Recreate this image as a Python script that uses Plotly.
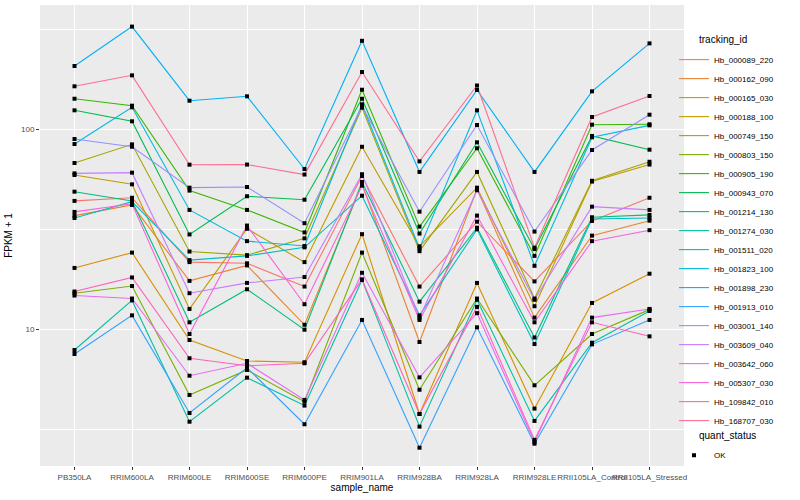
import plotly.graph_objects as go

samples = ["PB350LA", "RRIM600LA", "RRIM600LE", "RRIM600SE", "RRIM600PE", "RRIM901LA",
           "RRIM928BA", "RRIM928LA", "RRIM928LE", "RRII105LA_Control", "RRII105LA_Stressed"]

hb_000089_220 = [43.7, 45.3, 21.6, 21.3, 16.3, 58.2, 16.3, 34.4, 17.3, 34.7, 45.3]
hb_000162_090 = [36.9, 41.7, 17.4, 20.8, 10.5, 53.1, 8.61, 50.1, 11.4, 29.3, 34.8]
hb_000165_030 = [20.2, 24.1, 8.81, 6.92, 6.82, 29.8, 3.76, 17.0, 4.00, 13.5, 18.9]
hb_000188_100 = [58.9, 52.9, 12.6, 31.7, 21.6, 81.5, 25.9, 50.9, 13.0, 54.6, 66.4]
hb_000749_150 = [67.6, 83.8, 24.4, 23.4, 28.4, 127.8, 24.5, 61.0, 14.2, 55.1, 68.6]
hb_000803_150 = [15.1, 16.4, 4.68, 6.24, 4.33, 24.1, 4.97, 14.2, 5.23, 9.44, 12.5]
hb_000905_190 = [141.7, 130.8, 49.2, 39.4, 30.4, 157.2, 32.5, 80.1, 23.2, 105.1, 105.6]
hb_000943_070 = [124.0, 109.3, 29.7, 46.1, 44.3, 141.7, 30.0, 85.8, 25.1, 92.3, 78.8]
hb_001214_130 = [48.6, 43.7, 10.8, 15.8, 9.92, 54.3, 13.7, 32.1, 9.07, 36.2, 37.2]
hb_001274_030 = [7.85, 13.9, 3.44, 5.71, 4.14, 17.6, 3.25, 14.0, 3.47, 8.54, 12.3]
hb_001511_020 = [35.9, 43.3, 22.1, 23.2, 25.6, 46.4, 11.7, 31.5, 8.41, 35.5, 35.9]
hb_001823_100 = [84.1, 128.4, 39.4, 27.5, 26.0, 132.9, 25.3, 124.0, 20.7, 90.9, 104.3]
hb_001898_230 = [206.5, 325.0, 138.5, 145.7, 63.1, 276.0, 61.0, 156.7, 61.0, 154.3, 268.0]
hb_001913_010 = [7.50, 11.7, 3.80, 6.40, 3.34, 11.1, 2.55, 10.2, 2.67, 8.38, 11.1]
hb_003001_140 = [89.1, 81.5, 50.9, 51.3, 33.8, 130.3, 38.6, 104.7, 30.7, 78.5, 117.9]
hb_003609_040 = [60.0, 60.5, 15.1, 17.0, 18.2, 59.4, 11.4, 49.4, 14.0, 40.9, 39.4]
hb_003642_060 = [14.7, 14.2, 5.84, 6.74, 4.42, 19.1, 5.73, 12.0, 2.72, 11.4, 12.6]
hb_005307_030 = [38.5, 42.3, 9.44, 32.9, 13.3, 52.1, 11.1, 36.9, 10.8, 27.5, 31.2]
hb_109842_010 = [15.4, 18.1, 7.14, 6.55, 6.74, 17.7, 3.76, 12.9, 2.79, 10.8, 9.19]
hb_168707_030 = [163.5, 185.5, 66.3, 66.4, 59.2, 192.8, 68.9, 165.0, 25.5, 114.8, 146.2]

tracking_ids = ["Hb_000089_220", "Hb_000162_090", "Hb_000165_030", "Hb_000188_100",
                "Hb_000749_150", "Hb_000803_150", "Hb_000905_190", "Hb_000943_070",
                "Hb_001214_130", "Hb_001274_030", "Hb_001511_020", "Hb_001823_100",
                "Hb_001898_230", "Hb_001913_010", "Hb_003001_140", "Hb_003609_040",
                "Hb_003642_060", "Hb_005307_030", "Hb_109842_010", "Hb_168707_030"]
series_values = [hb_000089_220, hb_000162_090, hb_000165_030, hb_000188_100,
                 hb_000749_150, hb_000803_150, hb_000905_190, hb_000943_070,
                 hb_001214_130, hb_001274_030, hb_001511_020, hb_001823_100,
                 hb_001898_230, hb_001913_010, hb_003001_140, hb_003609_040,
                 hb_003642_060, hb_005307_030, hb_109842_010, hb_168707_030]

colors = ["#F8766D", "#EA8331", "#D89000", "#C09B00", "#A3A500", "#7CAE00", "#39B600",
          "#00BB4E", "#00BF7D", "#00C1A3", "#00BFC4", "#00BAE0", "#00B0F6", "#35A2FF",
          "#9590FF", "#C77CFF", "#E76BF3", "#FA62DB", "#FF62BC", "#FF6C91"]

FONT = "Liberation Sans, Arial, sans-serif"

fig = go.Figure()
for name, vals, col in zip(tracking_ids, series_values, colors):
    fig.add_trace(go.Scatter(x=samples, y=vals, mode="lines", name=name,
                             line=dict(color=col, width=1.1), legend="legend"))

all_x = [s for vals in series_values for s in samples]
all_y = [v for vals in series_values for v in vals]
fig.add_trace(go.Scatter(x=all_x, y=all_y, mode="markers", name="OK",
                         marker=dict(symbol="square", size=4, color="black"),
                         legend="legend2"))

fig.update_layout(
    width=800, height=500,
    margin=dict(l=40, r=116, t=5, b=34),
    paper_bgcolor="white", plot_bgcolor="#EBEBEB",
    font=dict(family=FONT, size=8, color="#4D4D4D"),
    xaxis=dict(type="category", range=[-0.6, 10.6], showgrid=True, gridcolor="white",
               gridwidth=1.1, zeroline=False, ticks="outside", ticklen=3,
               tickcolor="#333333", tickangle=0,
               tickfont=dict(family=FONT, size=8, color="#4D4D4D"),
               title=dict(text="sample_name", font=dict(family=FONT, size=10, color="black"),
                          standoff=2)),
    yaxis=dict(type="log", range=[0.315, 2.62], tickvals=[10, 100], ticktext=["10", "100"],
               showgrid=True, gridcolor="white", gridwidth=1.1, zeroline=False,
               ticks="outside", ticklen=3, tickcolor="#333333",
               tickfont=dict(family=FONT, size=8, color="#4D4D4D"),
               minor=dict(tickvals=[3.1623, 31.623, 316.23], showgrid=True,
                          gridcolor="white", gridwidth=0.5, ticks=""),
               title=dict(text="FPKM + 1", font=dict(family=FONT, size=10, color="black"),
                          standoff=6)),
    legend=dict(x=0.9845, y=0.913, xanchor="left", yanchor="top",
                font=dict(family=FONT, size=8, color="black"),
                bgcolor="rgba(0,0,0,0)", itemwidth=30, tracegroupgap=0),
    legend2=dict(x=0.9845, y=0.055, xanchor="left", yanchor="top",
                 font=dict(family=FONT, size=8, color="black"),
                 bgcolor="rgba(0,0,0,0)", itemwidth=30),
    annotations=[
        dict(text="tracking_id", xref="paper", yref="paper", x=1.0202, y=0.926,
             xanchor="left", yanchor="middle", showarrow=False,
             font=dict(family=FONT, size=10, color="black")),
        dict(text="quant_status", xref="paper", yref="paper", x=1.0202, y=0.066,
             xanchor="left", yanchor="middle", showarrow=False,
             font=dict(family=FONT, size=10, color="black")),
    ],
)

fig.write_html("out.html", config={"displayModeBar": False},
               post_script="document.body.style.margin='0px';")
